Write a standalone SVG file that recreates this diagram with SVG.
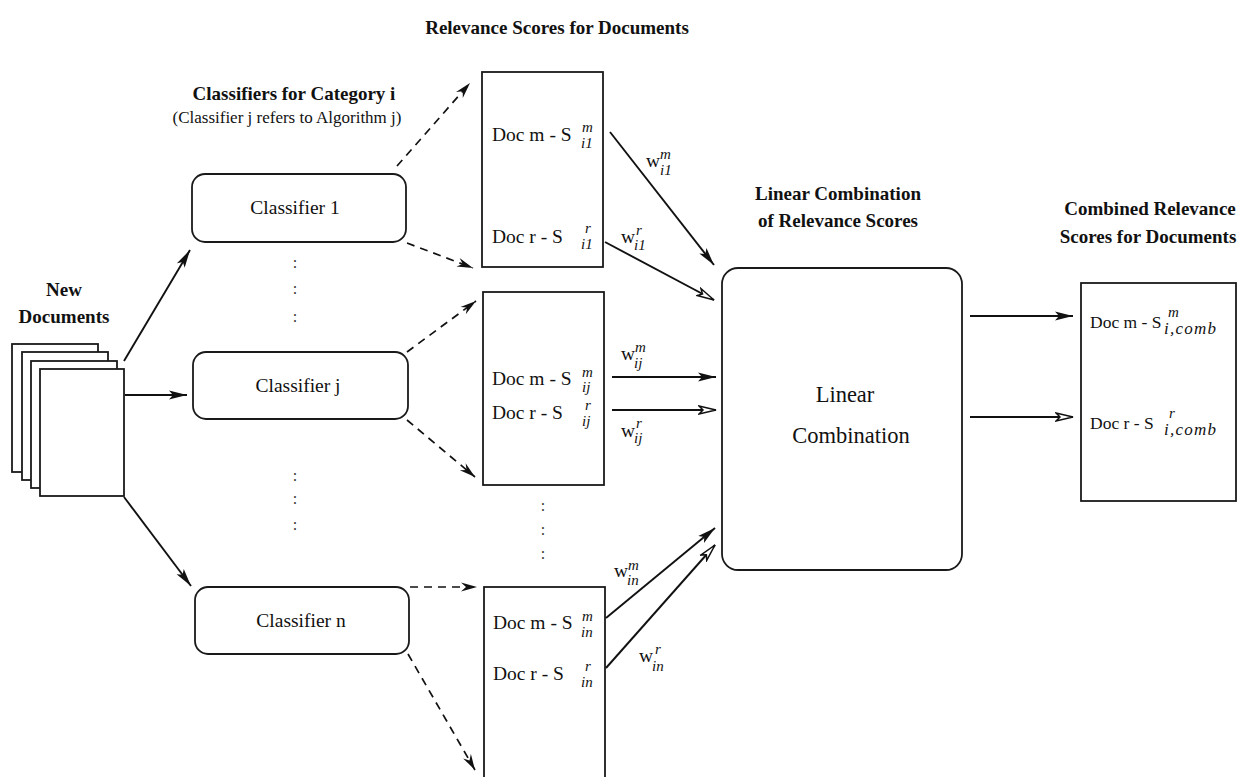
<svg xmlns="http://www.w3.org/2000/svg" width="1252" height="777" viewBox="0 0 1252 777">
  <style>
    .bg { fill: #ffffff; }
    .box { fill: #ffffff; stroke: #1a1a1a; stroke-width: 1.8; }
    .page { fill: #ffffff; stroke: #1a1a1a; stroke-width: 1.8; }
    .head { font-family: "Liberation Serif", "Times New Roman", serif; font-weight: bold; font-size: 19px; fill: #111; }
    .lbl { font-family: "Liberation Serif", "Times New Roman", serif; font-size: 19.5px; fill: #111; }
    .out { font-family: "Liberation Serif", "Times New Roman", serif; font-size: 17.5px; fill: #111; }
    .big { font-family: "Liberation Serif", "Times New Roman", serif; font-size: 22.5px; fill: #111; }
    .sm { font-family: "Liberation Serif", "Times New Roman", serif; font-size: 17px; fill: #111; }
    .idx { font-family: "Liberation Serif", "Times New Roman", serif; font-style: italic; font-size: 15px; fill: #111; }
    .idx-comb { font-family: "Liberation Serif", "Times New Roman", serif; font-style: italic; font-size: 17px; fill: #111; }
    .dots { font-family: "Liberation Serif", "Times New Roman", serif; font-size: 16px; fill: #333; }
    .solid { fill: none; stroke: #111; stroke-width: 1.9; }
    .dash { fill: none; stroke: #111; stroke-width: 1.7; stroke-dasharray: 8 6; }
  </style>
  <defs>
    <marker id="head-fill" markerUnits="userSpaceOnUse" markerWidth="20" markerHeight="12" refX="18" refY="6" orient="auto">
      <path d="M0,1.5 L18,6 L0,10.5 L4,6 z" fill="#111"/>
    </marker>
    <marker id="head-open" markerUnits="userSpaceOnUse" markerWidth="20" markerHeight="12" refX="18" refY="6" orient="auto">
      <path d="M1,2 L18,6 L1,10 L5,6 z" fill="#fff" stroke="#111" stroke-width="1.5"/>
    </marker>
    <marker id="head-dash" markerUnits="userSpaceOnUse" markerWidth="18" markerHeight="12" refX="16" refY="6" orient="auto">
      <path d="M0,1.5 L16,6 L0,10.5 L5,6 z" fill="#111"/>
    </marker>
  </defs>

  <rect class="bg" x="0" y="0" width="1252" height="777"/>

  <!-- section headings -->
  <g id="headings">
    <text class="head" x="557" y="34" text-anchor="middle">Relevance Scores for Documents</text>
    <text class="head" x="294" y="100" text-anchor="middle">Classifiers for Category i</text>
    <text class="sm" x="287" y="123" text-anchor="middle">(Classifier j refers to Algorithm j)</text>
    <text class="head" x="838" y="200" text-anchor="middle">Linear Combination</text>
    <text class="head" x="838" y="227" text-anchor="middle">of Relevance Scores</text>
    <text class="head" x="1150" y="215" text-anchor="middle">Combined Relevance</text>
    <text class="head" x="1148" y="243" text-anchor="middle">Scores for Documents</text>
  </g>

  <!-- stack of incoming documents -->
  <g id="new-documents">
    <text class="head" x="64" y="296" text-anchor="middle">New</text>
    <text class="head" x="64" y="323" text-anchor="middle">Documents</text>
    <rect class="page" x="12" y="344" width="86" height="128"/>
    <rect class="page" x="22" y="352" width="86" height="128"/>
    <rect class="page" x="31" y="361" width="86" height="127"/>
    <rect class="page" x="40" y="369" width="84" height="127"/>
  </g>

  <!-- classifiers -->
  <g id="classifier-1">
    <rect class="box" x="192" y="174" width="214" height="68" rx="13"/>
    <text class="lbl" x="295" y="214" text-anchor="middle">Classifier 1</text>
  </g>
  <g id="classifier-j">
    <rect class="box" x="193" y="352" width="215" height="67" rx="13"/>
    <text class="lbl" x="298" y="392" text-anchor="middle">Classifier j</text>
  </g>
  <g id="classifier-n">
    <rect class="box" x="195" y="587" width="214" height="67" rx="13"/>
    <text class="lbl" x="301" y="627" text-anchor="middle">Classifier n</text>
  </g>
  <g id="classifier-ellipsis">
    <text class="dots" x="295" y="268" text-anchor="middle">:</text>
    <text class="dots" x="295" y="294" text-anchor="middle">:</text>
    <text class="dots" x="295" y="322" text-anchor="middle">:</text>
    <text class="dots" x="295" y="481" text-anchor="middle">:</text>
    <text class="dots" x="295" y="504" text-anchor="middle">:</text>
    <text class="dots" x="295" y="530" text-anchor="middle">:</text>
  </g>

  <!-- relevance scores per classifier -->
  <g id="scores-1">
    <rect class="box" x="482" y="72" width="121" height="195"/>
    <text class="lbl" x="492" y="141">Doc m - S</text>
    <text class="idx" x="582" y="132">m</text>
    <text class="idx" x="581" y="148">i1</text>
    <text class="lbl" x="492" y="243">Doc r - S</text>
    <text class="idx" x="585" y="233">r</text>
    <text class="idx" x="581" y="249">i1</text>
  </g>
  <g id="scores-j">
    <rect class="box" x="483" y="292" width="121" height="193"/>
    <text class="lbl" x="492" y="385">Doc m - S</text>
    <text class="idx" x="582" y="377">m</text>
    <text class="idx" x="582" y="392">ij</text>
    <text class="lbl" x="492" y="419">Doc r - S</text>
    <text class="idx" x="585" y="410">r</text>
    <text class="idx" x="582" y="426">ij</text>
  </g>
  <g id="scores-ellipsis">
    <text class="dots" x="543" y="511" text-anchor="middle">:</text>
    <text class="dots" x="543" y="535" text-anchor="middle">:</text>
    <text class="dots" x="543" y="559" text-anchor="middle">:</text>
  </g>
  <g id="scores-n">
    <rect class="box" x="484" y="587" width="121" height="200"/>
    <text class="lbl" x="493" y="629">Doc m - S</text>
    <text class="idx" x="582" y="621">m</text>
    <text class="idx" x="581" y="637">in</text>
    <text class="lbl" x="493" y="680">Doc r - S</text>
    <text class="idx" x="585" y="671">r</text>
    <text class="idx" x="581" y="687">in</text>
  </g>

  <!-- combiner -->
  <g id="linear-combination">
    <rect class="box" x="722" y="268" width="240" height="302" rx="16"/>
    <text class="big" x="845" y="402" text-anchor="middle">Linear</text>
    <text class="big" x="851" y="443" text-anchor="middle">Combination</text>
  </g>

  <!-- combined output -->
  <g id="combined-scores">
    <rect class="box" x="1081" y="283" width="155" height="218"/>
    <text class="out" x="1090" y="328">Doc m - S</text>
    <text class="idx" x="1168" y="317">m</text>
    <text class="idx-comb" x="1164" y="334" textLength="52" lengthAdjust="spacing">i,comb</text>
    <text class="out" x="1090" y="429">Doc r - S</text>
    <text class="idx" x="1169" y="418">r</text>
    <text class="idx-comb" x="1164" y="435" textLength="52" lengthAdjust="spacing">i,comb</text>
  </g>

  <!-- weight labels -->
  <g id="weights">
    <text class="lbl" x="646" y="167">w</text>
    <text class="idx" x="660" y="159">m</text>
    <text class="idx" x="660" y="175">i1</text>
    <text class="lbl" x="621" y="243">w</text>
    <text class="idx" x="636" y="235">r</text>
    <text class="idx" x="634" y="250">i1</text>
    <text class="lbl" x="621" y="360">w</text>
    <text class="idx" x="635" y="352">m</text>
    <text class="idx" x="634" y="368">ij</text>
    <text class="lbl" x="621" y="437">w</text>
    <text class="idx" x="636" y="428">r</text>
    <text class="idx" x="634" y="443">ij</text>
    <text class="lbl" x="614" y="577">w</text>
    <text class="idx" x="628" y="570">m</text>
    <text class="idx" x="627" y="585">in</text>
    <text class="lbl" x="639" y="662">w</text>
    <text class="idx" x="655" y="654">r</text>
    <text class="idx" x="652" y="671">in</text>
  </g>

  <!-- connectors -->
  <g id="connectors">
    <!-- documents to classifiers -->
    <path class="solid" d="M124,361 L190,250" marker-end="url(#head-fill)"/>
    <path class="solid" d="M125,395 L187,395" marker-end="url(#head-fill)"/>
    <path class="solid" d="M124,497 L191,586" marker-end="url(#head-fill)"/>
    <!-- classifiers to score lists -->
    <path class="dash" d="M397,166 L470,83" marker-end="url(#head-dash)"/>
    <path class="dash" d="M407,243 L473,268" marker-end="url(#head-dash)"/>
    <path class="dash" d="M407,352 L476,301" marker-end="url(#head-dash)"/>
    <path class="dash" d="M407,420 L475,477" marker-end="url(#head-dash)"/>
    <path class="dash" d="M410,587 L477,587" marker-end="url(#head-dash)"/>
    <path class="dash" d="M408,654 L475,770" marker-end="url(#head-dash)"/>
    <!-- weighted scores into the combiner -->
    <path class="solid" d="M610,132 L714,265" marker-end="url(#head-fill)"/>
    <path class="solid" d="M605,242 L714,300" marker-end="url(#head-open)"/>
    <path class="solid" d="M612,377 L716,377" marker-end="url(#head-fill)"/>
    <path class="solid" d="M612,410 L716,410" marker-end="url(#head-open)"/>
    <path class="solid" d="M606,618 L715,528" marker-end="url(#head-fill)"/>
    <path class="solid" d="M606,668 L715,545" marker-end="url(#head-open)"/>
    <!-- combiner to combined scores -->
    <path class="solid" d="M970,316 L1073,316" marker-end="url(#head-fill)"/>
    <path class="solid" d="M970,417 L1073,417" marker-end="url(#head-open)"/>
  </g>
</svg>
